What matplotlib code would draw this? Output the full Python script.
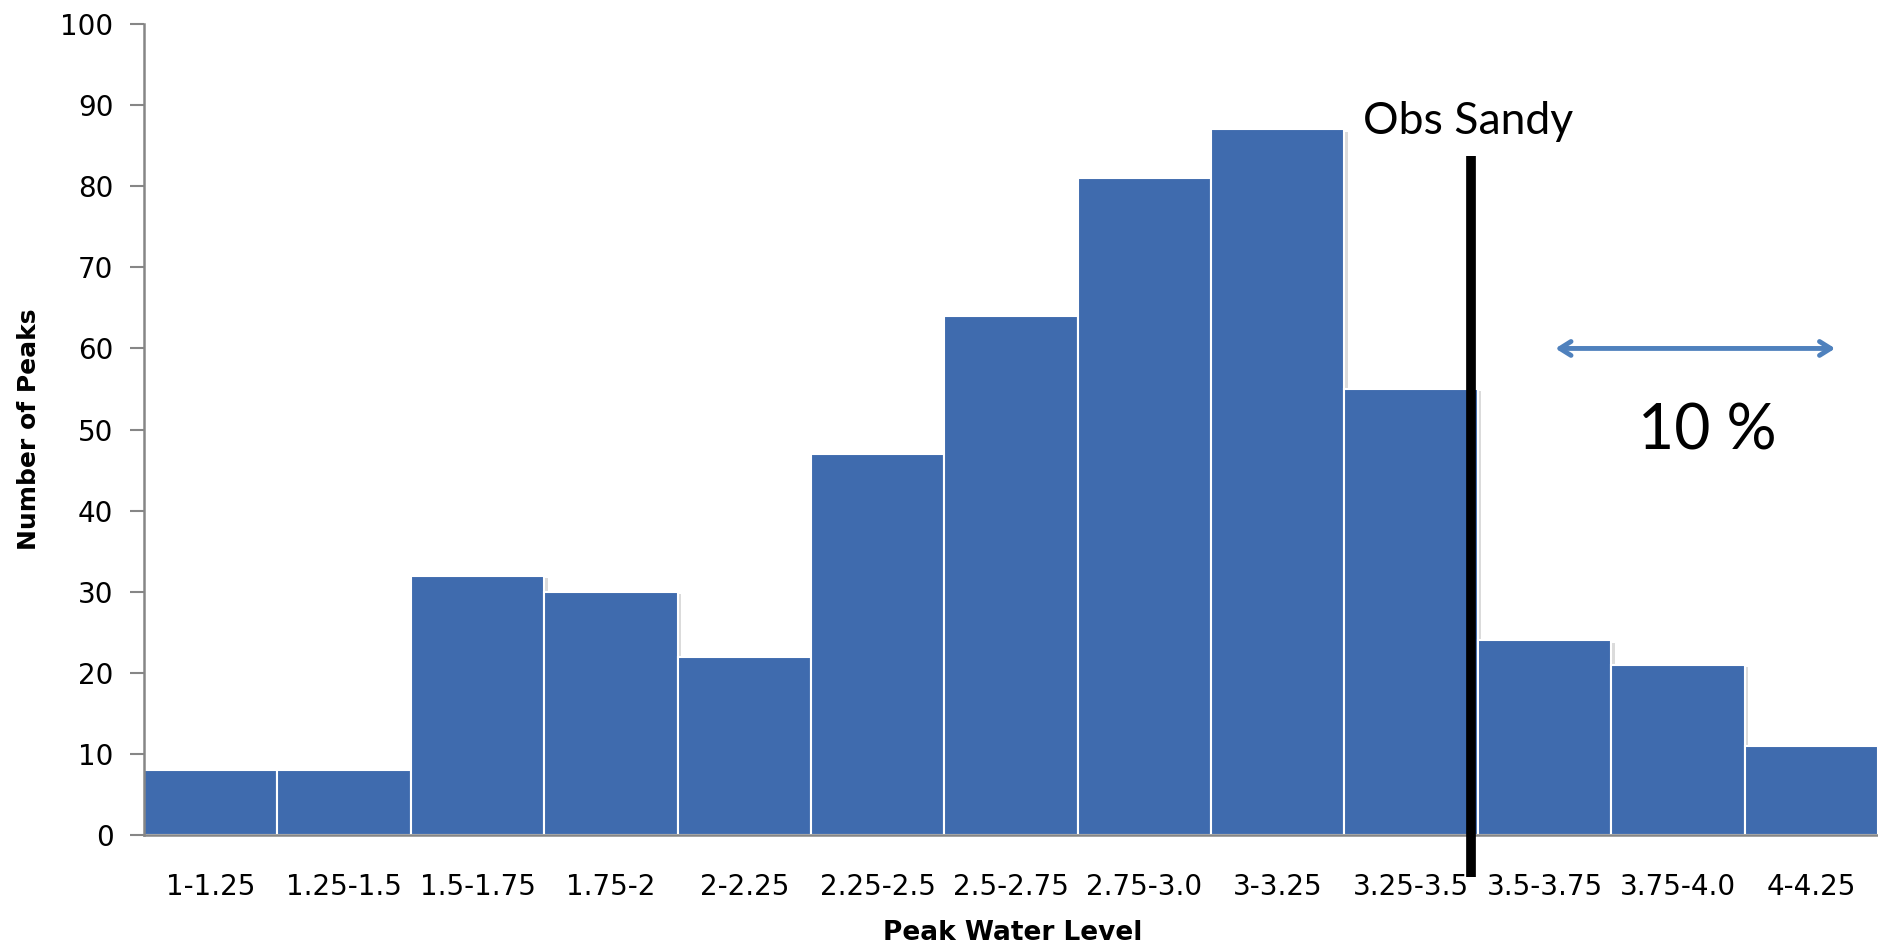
import matplotlib
matplotlib.use("Agg")
import matplotlib.pyplot as plt
import matplotlib.patheffects as pe

# Histogram of simulated peak water levels
bins = ["1-1.25", "1.25-1.5", "1.5-1.75", "1.75-2", "2-2.25", "2.25-2.5",
        "2.5-2.75", "2.75-3.0", "3-3.25", "3.25-3.5", "3.5-3.75", "3.75-4.0",
        "4-4.25"]
peaks = [8, 8, 32, 30, 22, 47, 64, 81, 87, 55, 24, 21, 11]

# observed Sandy level, in bar-index units
obs_sandy = 9.45
exceed_pct = "10 %"

fig = plt.figure(figsize=(18.78, 9.49), dpi=100)
ax = fig.add_axes([0.0767, 0.12, 0.9233, 0.8547])

positions = range(len(bins))
bars = ax.bar(positions, peaks, width=1.0, color="#3F6BAE",
              edgecolor="white", linewidth=1.5)
for b in bars:
    b.set_path_effects([pe.SimplePatchShadow(offset=(2.5, -1.5), shadow_rgbFace="#999999",
                                             alpha=0.35), pe.Normal()])

ax.set_xlim(-0.5, len(bins) - 0.5)
ax.set_ylim(0, 100)
ax.set_yticks(range(0, 101, 10))
ax.set_xticks(list(positions))
ax.set_xticklabels(bins)

for s in ["top", "right"]:
    ax.spines[s].set_visible(False)
for s in ["left", "bottom"]:
    ax.spines[s].set_color("#868686")
    ax.spines[s].set_linewidth(1.8)

ax.tick_params(axis="y", length=10, width=1.5, color="#868686", labelsize=20, pad=12)
ax.tick_params(axis="x", length=0, labelsize=20, pad=27)

ax.set_ylabel("Number of Peaks", fontsize=18, fontweight="bold", labelpad=14)
ax.set_xlabel("Peak Water Level", fontsize=19, fontweight="bold")
ax.xaxis.set_label_coords(0.501, -0.105)

# observed value marker
ax.plot([obs_sandy, obs_sandy], [83.7, -5.2], color="black", linewidth=7,
        solid_capstyle="butt", clip_on=False, zorder=5)
ax.text(9.43, 86.4, "Obs Sandy", fontsize=32, family="Lato",
        ha="center", va="baseline")

# share of runs above the observed level
ax.annotate("", xy=(12.2, 60), xytext=(10.06, 60),
            arrowprops=dict(arrowstyle="<->,head_length=0.8,head_width=0.5",
                            color="#4F81BD", lw=3.5))
ax.text(11.22, 49.8, exceed_pct, fontsize=45, family="Lato", ha="center", va="center")

fig.savefig("out.png", dpi=100)
